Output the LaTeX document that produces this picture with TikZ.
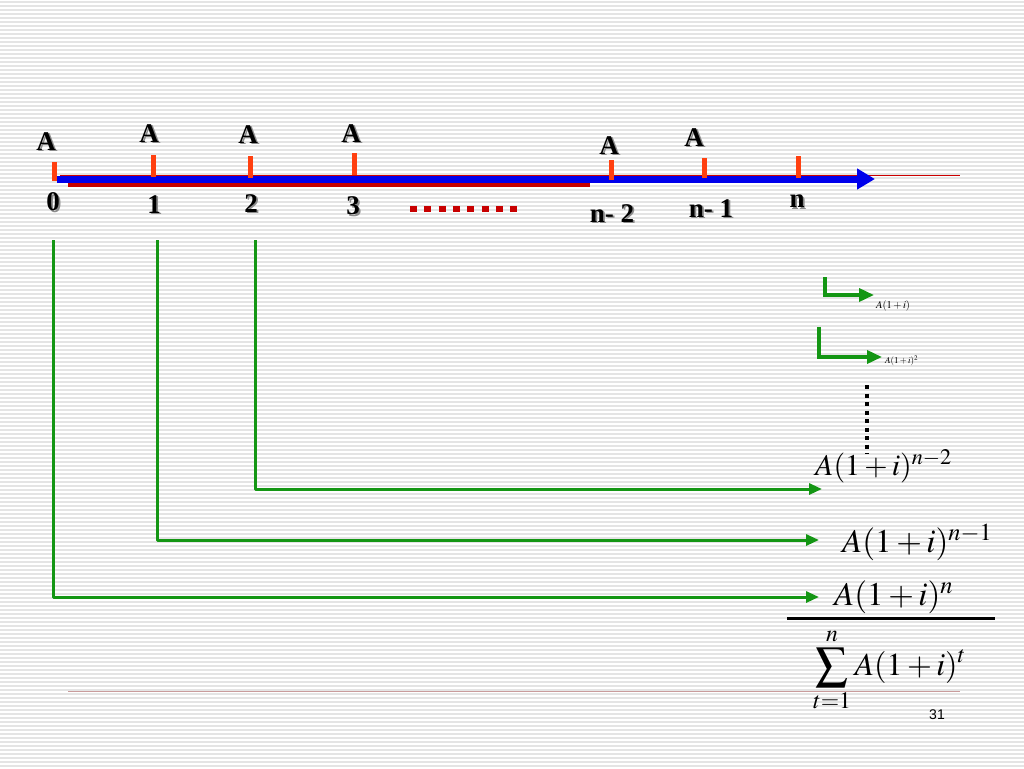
\documentclass[tikz,border=0pt]{standalone}
\usepackage{mathptmx}
\usepackage{fontspec}
\setmainfont{Liberation Serif}
\newfontfamily\slidesans{Liberation Sans}
\usetikzlibrary{arrows.meta}
\definecolor{tickred}{RGB}{255,64,16}
\definecolor{barred}{RGB}{200,0,0}
\definecolor{axisblue}{RGB}{0,0,235}
\definecolor{flowgreen}{RGB}{20,150,20}
\definecolor{stripe}{RGB}{228,228,228}
\newcommand{\shd}[1]{\makebox[0pt][l]{\color{black!45}\kern1.8pt\raisebox{-1.8pt}{#1}}#1}
\tikzset{
  tickmark/.style={tickred, line width=5pt},
  lbl/.style={font=\bfseries\fontsize{27}{27}\selectfont, inner sep=0pt},
  flow/.style={flowgreen, line width=3pt, line join=round, -{Triangle[length=13pt,width=11pt]}},
  smallflow/.style={flowgreen, line width=3.5pt, line join=miter, -{Triangle[length=15pt,width=13pt]}},
  mathlbl/.style={inner sep=0pt, anchor=west}
}
\begin{document}
\begin{tikzpicture}[x=1pt,y=-1pt]
\useasboundingbox (0,0) rectangle (1024,768);
\fill[white] (0,0) rectangle (1024,768);
\foreach \yy in {2,6,...,766} \draw[stripe, line width=1.6pt] (0,\yy) -- (1024,\yy);
% axis
\draw[red!80!black, line width=0.7pt] (60,175) -- (960,175);
\draw[barred, line width=6pt] (68,184) -- (590,184);
\coordinate (as) at (57,179);
\coordinate (ae) at (875,179);
\draw[axisblue, line width=7pt, -{Triangle[length=18pt,width=20pt]}] (as) -- (ae);
% ticks
\draw[tickmark] (54,162) -- (54,181);
\draw[tickmark] (153,155) -- (153,177);
\draw[tickmark] (250,156) -- (250,178);
\draw[tickmark] (354,153) -- (354,175);
\draw[tickmark] (611,160) -- (611,180);
\draw[tickmark] (704,158) -- (704,178);
\draw[tickmark] (798,156) -- (798,178);
% A labels
\node[lbl] (a0) at (46,142) {\shd{A}};
\node[lbl] (a1) at (149,134) {\shd{A}};
\node[lbl] (a2) at (248,135) {\shd{A}};
\node[lbl] (a3) at (351,134) {\shd{A}};
\node[lbl] (a4) at (609,146) {\shd{A}};
\node[lbl] (a5) at (694,138) {\shd{A}};
% number labels
\node[lbl] (t0) at (53,203) {\shd{0}};
\node[lbl] (t1) at (154,205) {\shd{1}};
\node[lbl] (t2) at (251,204) {\shd{2}};
\node[lbl] (t3) at (353,207) {\shd{3}};
\node[lbl] (t4) at (612,214) {\shd{n- 2}};
\node[lbl] (t5) at (711,209) {\shd{n- 1}};
\node[lbl] (t6) at (797,202) {\shd{n}};
% red dots
\draw[barred, line width=6pt, dash pattern=on 7pt off 7.3pt] (410,209) -- (520,209);
% green flows
\coordinate (g0) at (53,240);
\coordinate (g1) at (157,240);
\coordinate (g2) at (255,240);
\node[mathlbl] (e2) at (815,466) {\fontsize{30}{30}\selectfont $A(1+i)^{n-2}$};
\node[mathlbl] (e1) at (842,542) {\fontsize{33}{33}\selectfont $A(1+i)^{n-1}$};
\node[mathlbl] (e0) at (834,597) {\fontsize{33}{33}\selectfont $A(1+i)^{n}$};
\draw[flow] (g2) |- (822,489);
\draw[flow] (g1) |- (819,540);
\draw[flow] (g0) |- (819,597);
% small flows
\coordinate (s1) at (825,277);
\coordinate (s2) at (819,327);
\node[mathlbl] (f1) at (876,306) {\fontsize{10.5}{10.5}\selectfont $A(1+i)$};
\node[mathlbl] (f2) at (885,361) {\fontsize{9}{9}\selectfont $A(1+i)^2$};
\draw[smallflow] (s1) |- (874,295);
\draw[smallflow] (s2) |- (882,357);
% dots vertical
\draw[black, line width=4pt, dash pattern=on 4pt off 4.5pt] (867,385) -- (867,454);
% fraction
\draw[black, line width=3pt] (787,618) -- (995,618);
\node[inner sep=0pt, anchor=west] (sum) at (813,670) {\fontsize{32}{32}\selectfont $\displaystyle\sum_{t=1}^{n} A(1+i)^{t}$};
% bottom line
\draw[red!30!gray!60, line width=0.8pt] (68,691) -- (960,691);
\node[font=\slidesans\fontsize{14}{14}\selectfont, inner sep=0pt] (pg) at (937,715) {31};
\end{tikzpicture}
\end{document}
